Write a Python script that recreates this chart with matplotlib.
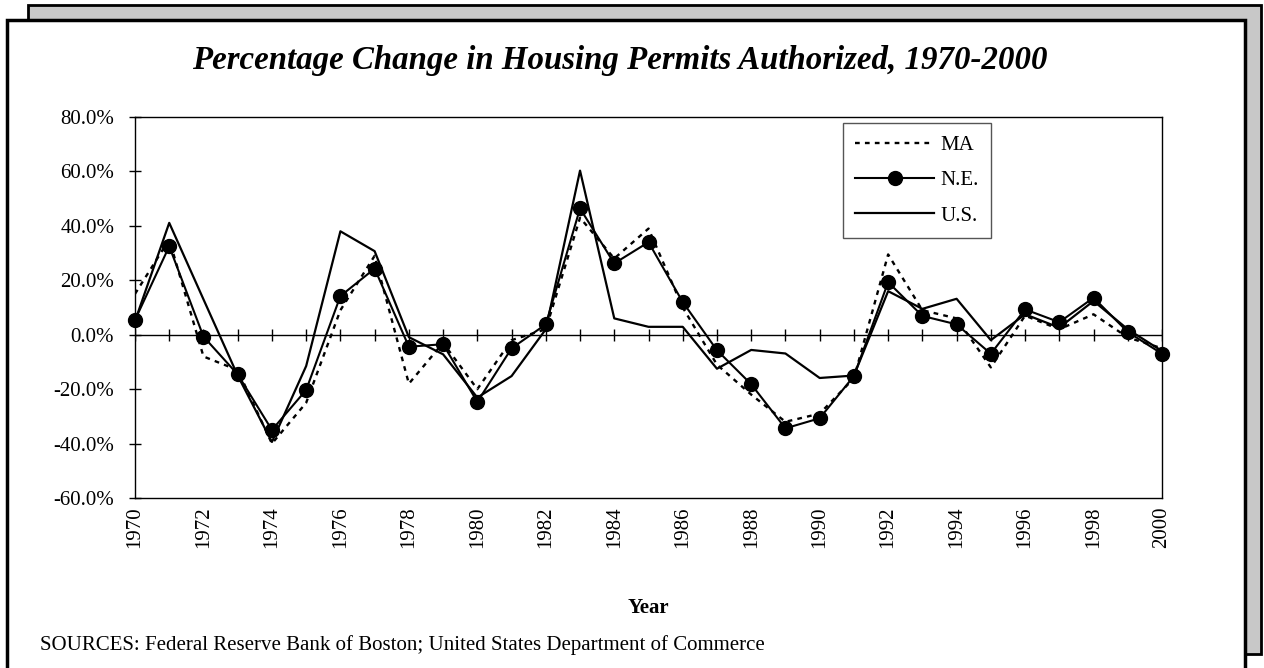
import numpy as np
import matplotlib
matplotlib.use("Agg")
import matplotlib.pyplot as plt
from matplotlib.patches import Rectangle
from matplotlib.ticker import FuncFormatter

plt.rcParams['font.family'] = ['Liberation Serif', 'DejaVu Serif']

# data (percent change)

years = np.arange(1970, 2001)
ma = [15, 35, -8, -13, -40, -25, 9, 29, -18, -3, -20,
      -2, 2, 43, 28, 39, 10, -11, -22, -32, -29,
      -16, 29.5, 9, 6, -12, 7, 2, 7.5, -1, -5]
ne = [5.4, 32.5, -0.7, -14.6, -35.0, -20.3, 14.2, 24.3, -4.4, -3.5, -24.7,
      -5.0, 3.8, 46.4, 26.2, 34.0, 12.0, -5.7, -18.2, -34.4, -30.7,
      -15.2, 19.3, 6.9, 3.8, -7.0, 9.3, 4.6, 13.6, 1.0, -7.0]
us = [5, 41.1, 13, -15, -39.4, -11.5, 38.0, 30.7, -0.9, -7.2, -23.1,
      -15.2, 2, 60.3, 6.0, 2.9, 2.9, -12.5, -5.6, -6.9, -15.9,
      -15, 16.0, 9.5, 13.2, -2.0, 7.5, 2.6, 12.4, 2, -6]
yticks = [-60, -40, -20, 0, 20, 40, 60, 80]
xlabel_years = np.arange(1970, 2001, 2)

W, H = 1264, 668
fig = plt.figure(figsize=(W / 100, H / 100), dpi=100)

def box(x0, y0, x1, y1, **kw):
    # pixel box (top-left origin) -> figure coords
    r = Rectangle((x0 / W, 1 - y1 / H), (x1 - x0) / W, (y1 - y0) / H,
                  transform=fig.transFigure, zorder=-10, **kw)
    fig.patches.append(r)

# frames
box(28, 5, 1261, 654, facecolor='#c8c8c8', edgecolor='black', linewidth=2)
box(7, 20, 1245, 680, facecolor='white', edgecolor='black', linewidth=2.5)

ax = fig.add_axes([135 / W, 1 - 498 / H, (1162 - 135) / W, (498 - 117) / H])
ax.set_facecolor('white')

ax.plot(years, ma, color='black', linewidth=1.7, linestyle=(0, (2, 2.2)), label='MA')
ax.plot(years, ne, color='black', linewidth=1.5, marker='o', markersize=10,
        label='N.E.', clip_on=False, zorder=3)
ax.plot(years, us, color='black', linewidth=1.6, label='U.S.')

# zero axis with year ticks
ax.axhline(0, color='black', linewidth=1.0, zorder=1)
ax.plot(years, np.zeros(len(years)), linestyle='none', marker='|', markersize=8.5,
        markeredgewidth=1.0, color='black', zorder=1)

ax.set_xlim(1970, 2000)
ax.set_ylim(-60, 80)
ax.set_yticks(yticks)
ax.yaxis.set_major_formatter(FuncFormatter(lambda v, p: '%.1f%%' % v))
ax.set_xticks(xlabel_years)
ax.set_xticklabels([str(y) for y in xlabel_years], rotation=90)
ax.tick_params(axis='x', length=0, pad=6, labelsize=15)
ax.tick_params(axis='y', direction='inout', length=8, width=1, pad=11, labelsize=15)
for s in ax.spines.values():
    s.set_linewidth(1.0)

ax.set_xlabel('Year', fontsize=15, fontweight='bold', labelpad=36)

leg = ax.legend(loc='upper left', bbox_to_anchor=(0.689, 0.984), borderaxespad=0,
                fancybox=False, edgecolor='#555555', fontsize=15, handlelength=3.8,
                labelspacing=0.75, handletextpad=0.3, borderpad=0.6, numpoints=1,
                framealpha=1)
leg.get_frame().set_linewidth(1.0)
leg.set_zorder(5)

fig.text(620 / W, 1 - 60 / H, 'Percentage Change in Housing Permits Authorized, 1970-2000',
         ha='center', va='center', fontsize=23.7, fontweight='bold', fontstyle='italic')
fig.text(40 / W, 1 - 645 / H,
         'SOURCES: Federal Reserve Bank of Boston; United States Department of Commerce',
         ha='left', va='center', fontsize=15)

plt.savefig('out.png', dpi=100)
